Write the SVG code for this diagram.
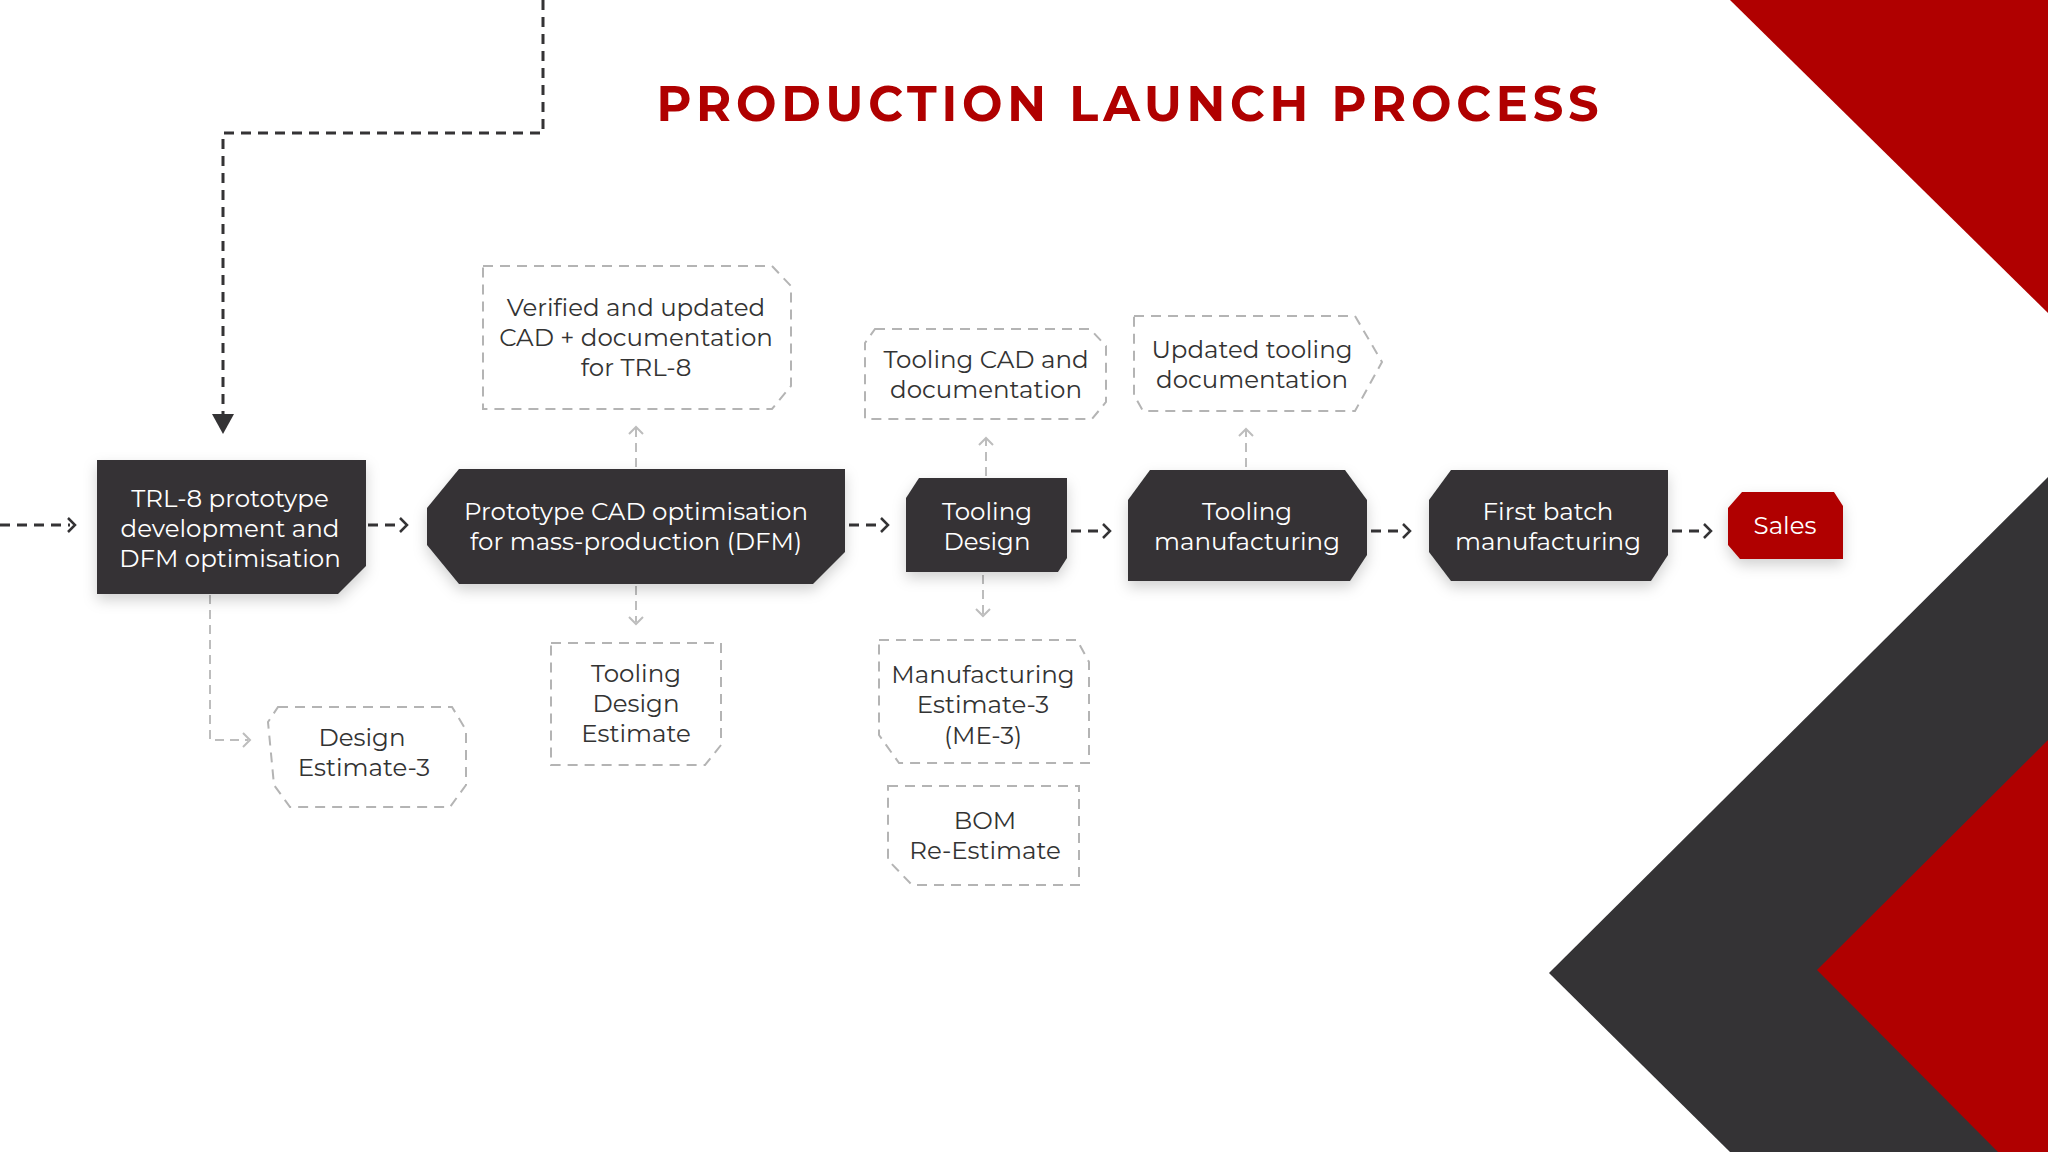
<svg xmlns="http://www.w3.org/2000/svg" width="2048" height="1152" viewBox="0 0 2048 1152">
<style>
.t{font-family:Montserrat,"Open Sans","Liberation Sans",sans-serif;font-size:24.5px;text-anchor:middle;dominant-baseline:central}
.w{fill:#ffffff}
.d{fill:#333333}
.n{fill:#343335}
.b{fill:#ffffff;stroke:#b4b4b4;stroke-width:2;stroke-dasharray:10 7}
.c{fill:none;stroke:#343335;stroke-width:3;stroke-dasharray:10 7}
.ch{fill:none;stroke:#343335;stroke-width:2.5}
.g{fill:none;stroke:#bdbdbd;stroke-width:2;stroke-dasharray:9 6}
.gh{fill:none;stroke:#bdbdbd;stroke-width:2}
</style>
<defs>
<filter id="sh" x="-20%" y="-20%" width="140%" height="150%"><feDropShadow dx="0" dy="6" stdDeviation="7" flood-color="#000" flood-opacity="0.18"/></filter>
</defs>
<rect width="2048" height="1152" fill="#ffffff"/>
<polygon points="1730,0 2048,0 2048,313" fill="#b00000"/>
<polygon points="2048,477 1549,973 1730,1152 2048,1152" fill="#343335"/>
<polygon points="2048,740 1817,970 1998,1152 2048,1152" fill="#b00000"/>
<text x="1130" y="103" font-family="Montserrat,'Liberation Sans',sans-serif" font-weight="bold" font-size="50" fill="#b00000" text-anchor="middle" dominant-baseline="central" letter-spacing="5" textLength="947" lengthAdjust="spacingAndGlyphs">PRODUCTION LAUNCH PROCESS</text>

<g id="connectors">
<path class="c" d="M543,0 V133 H223 V418" stroke-width="3.5"/>
<polygon points="212,414 234,414 223,434" fill="#343335"/>
<path class="c" d="M0,525 H70"/><path class="ch" d="M68,518 L75,525 L68,532"/>
<path class="c" d="M368,525 H400"/><path class="ch" d="M400,518 L407,525 L400,532"/>
<path class="c" d="M849,525 H881"/><path class="ch" d="M881,518 L888,525 L881,532"/>
<path class="c" d="M1071,531 H1103"/><path class="ch" d="M1103,524 L1110,531 L1103,538"/>
<path class="c" d="M1371,531 H1403"/><path class="ch" d="M1403,524 L1410,531 L1403,538"/>
<path class="c" d="M1672,531 H1704"/><path class="ch" d="M1704,524 L1711,531 L1704,538"/>
<path class="g" d="M210,595 V740 H248"/><path class="gh" d="M243,733 L250,740 L243,747"/>
<path class="g" d="M636,467 V428"/><path class="gh" d="M629,434 L636,427 L643,434"/>
<path class="g" d="M636,586 V622"/><path class="gh" d="M629,617 L636,624 L643,617"/>
<path class="g" d="M986,476 V439"/><path class="gh" d="M979,445 L986,438 L993,445"/>
<path class="g" d="M983,575 V614"/><path class="gh" d="M976,609 L983,616 L990,609"/>
<path class="g" d="M1246,467 V430"/><path class="gh" d="M1239,436 L1246,429 L1253,436"/>
</g>

<g id="n1"><polygon class="n" filter="url(#sh)" points="97,460 366,460 366,566 338,594 97,594"/>
<text class="t w" x="230" y="498">TRL-8 prototype</text><text class="t w" x="230" y="528">development and</text><text class="t w" x="230" y="558">DFM optimisation</text></g>
<g id="n2"><polygon class="n" filter="url(#sh)" points="459,469 845,469 845,552 813,584 459,584 427,545 427,508"/>
<text class="t w" x="636" y="511">Prototype CAD optimisation</text><text class="t w" x="636" y="541">for mass-production (DFM)</text></g>
<g id="n3"><polygon class="n" filter="url(#sh)" points="919,478 1067,478 1067,558 1058,572 906,572 906,498"/>
<text class="t w" x="987" y="511">Tooling</text><text class="t w" x="987" y="541">Design</text></g>
<g id="n4"><polygon class="n" filter="url(#sh)" points="1150,470 1345,470 1367,500 1367,555 1350,581 1128,581 1128,500"/>
<text class="t w" x="1247" y="511">Tooling</text><text class="t w" x="1247" y="541">manufacturing</text></g>
<g id="n5"><polygon class="n" filter="url(#sh)" points="1451,470 1668,470 1668,555 1651,581 1451,581 1429,552 1429,500"/>
<text class="t w" x="1548" y="511">First batch</text><text class="t w" x="1548" y="541">manufacturing</text></g>
<g id="sales"><polygon fill="#b00000" filter="url(#sh)" points="1742,492 1834,492 1843,506 1843,559 1740,559 1728,545 1728,508"/>
<text class="t w" x="1785" y="525">Sales</text></g>

<g id="a"><polygon class="b" points="483,266 772,266 791,286 791,386 772,409 483,409"/>
<text class="t d" x="636" y="307">Verified and updated</text><text class="t d" x="636" y="337">CAD + documentation</text><text class="t d" x="636" y="367">for TRL-8</text></g>
<g id="b"><polygon class="b" points="875,329 1090,329 1106,346 1106,402 1092,419 865,419 865,343"/>
<text class="t d" x="986" y="359">Tooling CAD and</text><text class="t d" x="986" y="389">documentation</text></g>
<g id="c"><polygon class="b" points="1134,316 1355,316 1382,362 1355,411 1143,411 1134,395"/>
<text class="t d" x="1252" y="349">Updated tooling</text><text class="t d" x="1252" y="379">documentation</text></g>
<g id="dE"><polygon class="b" points="278,707 452,707 466,730 466,785 450,807 290,807 274,785 268,722"/>
<text class="t d" x="362" y="737">Design</text><text class="t d" x="364" y="767">Estimate-3</text></g>
<g id="e"><polygon class="b" points="551,643 721,643 721,745 705,765 551,765"/>
<text class="t d" x="636" y="673">Tooling</text><text class="t d" x="636" y="703">Design</text><text class="t d" x="636" y="733">Estimate</text></g>
<g id="f"><polygon class="b" points="879,640 1077,640 1089,662 1089,763 899,763 879,735"/>
<text class="t d" x="983" y="674">Manufacturing</text><text class="t d" x="983" y="704">Estimate-3</text><text class="t d" x="983" y="735">(ME-3)</text></g>
<g id="g"><polygon class="b" points="888,786 1079,786 1079,885 912,885 888,860"/>
<text class="t d" x="985" y="820">BOM</text><text class="t d" x="985" y="850">Re-Estimate</text></g>
</svg>
